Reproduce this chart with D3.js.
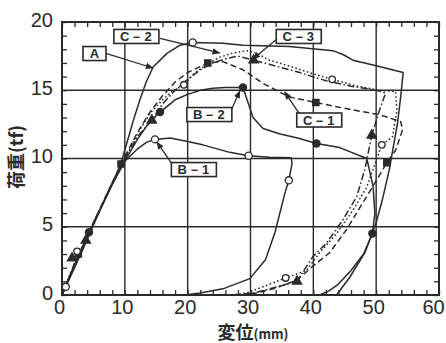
<!DOCTYPE html>
<html><head><meta charset="utf-8">
<script src="https://cdn.jsdelivr.net/npm/d3@7"></script>
<style>
html,body{margin:0;padding:0;background:#fff;}
svg{display:block;}
</style></head>
<body>
<svg id="chart" width="446" height="343"></svg>
<script>
// ---------- data (displacement mm, load tf) ----------
const xTicks = [0, 10, 20, 30, 40, 50, 60];
const yTicks = [0, 5, 10, 15, 20];

const seriesA = [[0,0],[3,3],[6,6.2],[8,8.2],[9.3,9.5],[10.3,11.1],[11.3,12.7],[12.4,14.3],[13.4,15.6],[14.5,16.7],[16.7,17.7],[18.8,18.3],[20.8,18.5],[25.6,18.45],[28.8,18.3],[36.2,18.2],[43.1,17.9],[44.8,17.6],[46.3,17.2],[50,16.8],[54.3,16.3],[53.9,14.5],[53.4,12.6],[52.1,9.2],[51,7],[50,5.3],[48.2,3.1],[45.8,1.3],[43.7,0]];
const seriesB1 = [[0,0],[2,2.2],[5,5.2],[8,8.1],[10,9.8],[12,10.7],[13.5,11.2],[14.8,11.4],[17.2,11.5],[20,11.25],[22.4,11.0],[26.7,10.45],[29.7,10.2],[33,10.1],[36.5,10.05],[36.6,9.6],[36.1,8.4],[35.5,7.5],[33.9,4.6],[32.4,2.6],[29.9,1.2],[25.6,0.45],[22,0.15],[19.5,0]];
const seriesB2 = [[0,0],[2,2.2],[5,5.2],[8,8.2],[10,9.8],[12,11.4],[13.8,12.6],[15.6,13.4],[18,14.3],[20,14.7],[22,15.0],[24,15.15],[26,15.2],[28.8,15.2],[30.4,13],[32,12.2],[34.7,11.8],[37.5,11.5],[40.5,11.1],[44.2,10.8],[48.5,10.0],[49.5,8],[49.8,6],[49.4,4.5],[48,3],[46,1.8],[44,0.8],[42.5,0.3],[41,0]];
const seriesC1 = [[0,0],[2,2.3],[5,5.3],[9.4,9.6],[12,11.9],[14,13.4],[16,14.6],[18,15.6],[20,16.3],[23.2,17.0],[25.6,17.1],[28.8,16.5],[32,15.5],[36.2,14.5],[40.4,14.1],[45.8,13.6],[50.6,13.2],[53.9,12.7],[54.2,12.1],[53.1,10.6],[51.7,9.7],[49.4,7.9],[47.4,6.4],[45.3,4.8],[42.6,3.1],[39.9,2.1],[37.4,1.1],[34,0.5],[31,0.15],[29,0]];
const seriesC2 = [[0,0],[2,2.3],[5,5.3],[10,10],[12,11.8],[14,13.3],[16,14.3],[17.5,14.9],[19.4,15.4],[21,16.2],[23,16.9],[25,17.4],[27,17.7],[29.4,17.9],[31,17.7],[33,17.2],[36,16.8],[40,16.2],[43,15.8],[47,15.3],[50.6,15.0],[53.1,14.9],[53.3,13.5],[52.6,11.6],[50.9,11.0],[48.5,7.9],[46.3,6.2],[43.7,4.5],[41,3.1],[38.9,1.8],[35.6,1.25],[32,0.6],[29.4,0.15],[27,0]];
const seriesC3 = [[0,0],[2,2.3],[5,5.3],[10,10],[12,11.6],[14.3,12.8],[16,14.0],[18,15.0],[20,15.8],[22,16.5],[24,17.0],[26,17.3],[28,17.5],[30.5,17.2],[33,16.9],[37.8,16.3],[42,15.7],[46,15.3],[50,15.0],[51.5,14.8],[50.5,13.5],[49.3,11.7],[48.2,9.2],[46.9,7.2],[44.7,5.5],[42.1,3.8],[39.9,2.8],[37.4,1.0],[34.2,0.6],[31,0.2],[28,0]];

const markA  = [[20.8,18.5]];
const markB1 = [[14.8,11.4],[29.7,10.2],[36.1,8.4],[0.6,0.6]];
const markB2 = [[15.6,13.4],[28.8,15.2],[40.5,11.1],[49.4,4.5],[4.3,4.6]];
const markC1 = [[9.4,9.6],[23.2,17.0],[40.4,14.1],[51.7,9.7],[2.6,3.0]];
const markC2 = [[19.4,15.4],[43,15.8],[50.9,11.0],[35.6,1.25],[2.4,3.2]];
const markC3 = [[14.3,12.8],[30.5,17.2],[49.3,11.7],[37.4,1.0],[1.6,2.7],[3.8,4.0]];

// label boxes: text, box centre (data), arrow start (data), arrow tip (data)
const labelNames = ["A","C－2","C－3","C－1","B－2","B－1"];
const labelCentres = [[5.17,17.69],[11.84,18.94],[37.68,18.94],[40.94,12.82],[23.45,13.22],[20.99,9.19]];
const arrowFrom = [[7.0,17.7],[15.6,18.8],[34.3,18.8],[37.9,13.2],[27.0,13.6],[17.5,9.6]];
const arrowTo = [[14.47,16.63],[25.1,17.73],[30.4,17.29],[35.45,14.87],[28.3,14.95],[15.1,11.2]];

// ---------- drawing ----------
const svg = d3.select("#chart");
const ink = "#2a2a2a";
const L = 62, R = 439, T = 22, B = 295;
const x = d3.scaleLinear().domain([0,60]).range([L,R]);
const y = d3.scaleLinear().domain([0,20]).range([B,T]);

svg.append("rect").attr("width",446).attr("height",343).attr("fill","#fff");

// grid
const g = svg.append("g");
g.selectAll(".vg").data(xTicks.slice(1,-1)).enter().append("line")
  .attr("x1",d=>x(d)).attr("x2",d=>x(d)).attr("y1",T).attr("y2",B)
  .attr("stroke",ink).attr("stroke-width",1.4);
g.selectAll(".hg").data(yTicks.slice(1,-1)).enter().append("line")
  .attr("y1",d=>y(d)).attr("y2",d=>y(d)).attr("x1",L).attr("x2",R)
  .attr("stroke",ink).attr("stroke-width",1.4);

// inner minor ticks via axes
const xMinor = d3.range(0,61,2), yMinor = d3.range(0,21,1);
svg.append("g").attr("transform",`translate(0,${B})`)
  .call(d3.axisTop(x).tickValues(xMinor).tickSize(5).tickFormat(""))
  .call(s=>{s.select(".domain").remove(); s.selectAll("line").attr("stroke",ink).attr("stroke-width",1.3);});
svg.append("g").attr("transform",`translate(0,${T})`)
  .call(d3.axisBottom(x).tickValues(xMinor).tickSize(5).tickFormat(""))
  .call(s=>{s.select(".domain").remove(); s.selectAll("line").attr("stroke",ink).attr("stroke-width",1.3);});
svg.append("g").attr("transform",`translate(${L},0)`)
  .call(d3.axisRight(y).tickValues(yMinor).tickSize(5).tickFormat(""))
  .call(s=>{s.select(".domain").remove(); s.selectAll("line").attr("stroke",ink).attr("stroke-width",1.3);});
svg.append("g").attr("transform",`translate(${R},0)`)
  .call(d3.axisLeft(y).tickValues(yMinor).tickSize(5).tickFormat(""))
  .call(s=>{s.select(".domain").remove(); s.selectAll("line").attr("stroke",ink).attr("stroke-width",1.3);});

// tick labels
svg.append("g").attr("transform",`translate(0,${B})`)
  .call(d3.axisBottom(x).tickValues(xTicks).tickSize(0).tickPadding(5).tickFormat(d3.format("d")))
  .call(s=>{s.select(".domain").remove(); s.selectAll("text").attr("fill",ink)
    .style("font-family","'Liberation Sans',Arial,sans-serif").style("font-size","20px")
    .attr("dx",d=>d===60?-6:-3);});
svg.append("g").attr("transform",`translate(${L},0)`)
  .call(d3.axisLeft(y).tickValues(yTicks).tickSize(0).tickPadding(9).tickFormat(d3.format("d")))
  .call(s=>{s.select(".domain").remove(); s.selectAll("text").attr("fill",ink)
    .style("font-family","'Liberation Sans',Arial,sans-serif").style("font-size","20px").attr("dy","0.2em");});

// series
const line = d3.line().x(d=>x(d[0])).y(d=>y(d[1]));
const seriesDefs = [
  {d:seriesA, dash:null},
  {d:seriesB1, dash:null},
  {d:seriesB2, dash:null},
  {d:seriesC1, dash:"6,3.5"},
  {d:seriesC2, dash:"1.6,2.4"},
  {d:seriesC3, dash:"7,2.5,1.6,2.5"}
];
seriesDefs.forEach(s=>{
  svg.append("path").attr("d",line(s.d)).attr("fill","none").attr("stroke",ink)
    .attr("stroke-width",1.5).attr("stroke-dasharray",s.dash).attr("stroke-linejoin","round");
});

// markers
function marks(data, type, filled, size){
  svg.append("g").selectAll("path").data(data).enter().append("path")
    .attr("transform",d=>`translate(${x(d[0])},${y(d[1])})`)
    .attr("d",d3.symbol().type(type).size(size))
    .attr("fill",filled?ink:"#fff").attr("stroke",ink).attr("stroke-width",1.3);
}
marks(markA, d3.symbolCircle, false, 40);
marks(markB1, d3.symbolCircle, false, 40);
marks(markB2, d3.symbolCircle, true, 40);
marks(markC1, d3.symbolSquare, true, 40);
marks(markC2, d3.symbolCircle, false, 34);
marks(markC3, d3.symbolTriangle, true, 38);

// frame
svg.append("rect").attr("x",L).attr("y",T).attr("width",R-L).attr("height",B-T)
  .attr("fill","none").attr("stroke",ink).attr("stroke-width",2);

// arrows
svg.append("defs").append("marker").attr("id","ah").attr("viewBox","0 0 10 10")
  .attr("refX",9).attr("refY",5).attr("markerWidth",8).attr("markerHeight",8)
  .attr("markerUnits","userSpaceOnUse").attr("orient","auto")
  .append("path").attr("d","M0,1 L10,5 L0,9 Z").attr("fill",ink);
labelNames.forEach((t,i)=>{
  svg.append("line").attr("x1",x(arrowFrom[i][0])).attr("y1",y(arrowFrom[i][1]))
    .attr("x2",x(arrowTo[i][0])).attr("y2",y(arrowTo[i][1]))
    .attr("stroke",ink).attr("stroke-width",1.3).attr("marker-end","url(#ah)");
});
labelNames.forEach((t,i)=>{
  const cx = x(labelCentres[i][0]), cy = y(labelCentres[i][1]);
  const w = t.length===1 ? 23 : 45, h = 14;
  svg.append("rect").attr("x",cx-w/2).attr("y",cy-h/2).attr("width",w).attr("height",h)
    .attr("fill","#fff").attr("stroke",ink).attr("stroke-width",1.6);
  svg.append("text").attr("x",cx).attr("y",cy).attr("dy","0.36em").attr("text-anchor","middle")
    .attr("fill",ink).style("font-family","'Liberation Sans',Arial,sans-serif")
    .style("font-size","13px").style("font-weight","bold").style("letter-spacing", t.length>1?"1px":"0")
    .text(t);
});

// axis titles
svg.append("text").attr("transform","translate(23,157) rotate(-90)").attr("text-anchor","middle")
  .attr("fill",ink).style("font-family","'Noto Sans CJK JP',sans-serif").style("font-weight","bold")
  .style("font-size","18px").text("荷重(tf)");
const xt = svg.append("text").attr("x",253).attr("y",339).attr("text-anchor","middle")
  .attr("fill",ink).style("font-family","'Noto Sans CJK JP',sans-serif").style("font-weight","bold")
  .style("font-size","18px");
xt.append("tspan").text("変位");
xt.append("tspan").style("font-size","13px").text("(mm)");
</script>
</body></html>
